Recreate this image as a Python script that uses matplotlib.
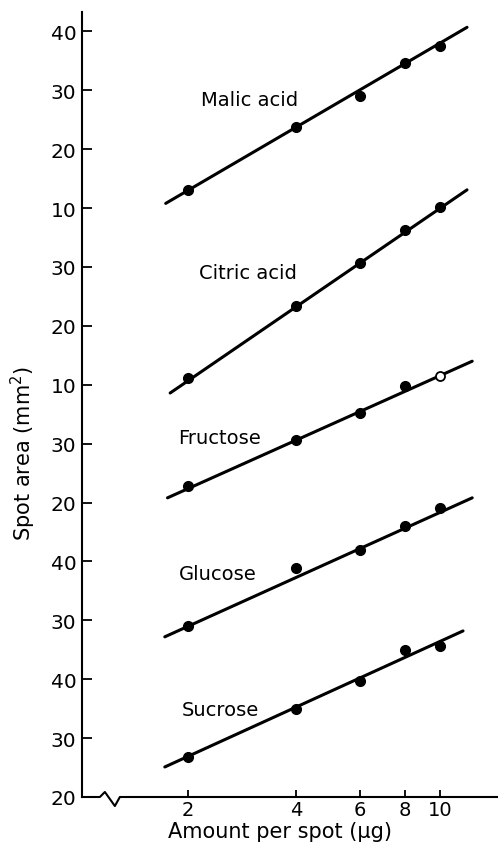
import matplotlib
matplotlib.use('Agg')
from matplotlib import pyplot as plt
import numpy as np

plt.rcParams['font.family'] = ['DejaVu Sans']

amount = [2, 4, 6, 8, 10]

names = ['Malic acid', 'Citric acid', 'Fructose', 'Glucose', 'Sucrose']
# each curve has its own stretch of the y scale, shifted by this much
offsets = [110, 80, 50, 20, 0]

malic = [13.1, 23.8, 29.0, 34.6, 37.5]
citric = [11.1, 23.4, 30.7, 36.3, 40.2]
fructose = [22.8, 30.6, 35.2, 39.8, 41.5]
glucose = [29.0, 38.9, 41.9, 46.0, 49.1]
sucrose = [26.8, 34.9, 39.7, 45.0, 45.6]
series = [malic, citric, fructose, glucose, sucrose]

# drawn fit lines (start / end)
line_x0 = [1.74, 1.79, 1.76, 1.73, 1.73]
line_x1 = [11.9, 11.9, 12.3, 12.3, 11.6]
line_y0 = [10.8, 8.6, 20.8, 27.2, 25.1]
line_y1 = [40.7, 43.1, 44.0, 50.8, 48.2]

# fructose at 10 ug is an open circle
open_pts = {'Fructose': [10]}

label_x = [250, 248, 220, 218, 221]
label_y = [28.5, 29.1, 31.0, 37.9, 34.9]

ytick_pos = [20, 30, 40, 50, 60, 70, 80, 90, 100, 110, 120, 130, 140, 150]
ytick_labels = ['20', '30', '40', '30', '40', '20', '30', '10', '20', '30',
                '10', '20', '30', '40']
xticks = [2, 4, 6, 8, 10]

fig = plt.figure(figsize=(4.98, 8.45), dpi=100)
ax = fig.add_axes([82 / 498, 47 / 845, 416 / 498, 785 / 845])

ax.set_xscale('log')
ax.set_xlim(1.02, 14.5)
ax.set_ylim(20, 153.3)

for i in range(len(names)):
    off = offsets[i]
    ax.plot([line_x0[i], line_x1[i]], [line_y0[i] + off, line_y1[i] + off],
            color='black', lw=2.2, solid_capstyle='round')
    for x, v in zip(amount, series[i]):
        if x in open_pts.get(names[i], []):
            ax.plot(x, v + off, 'o', ms=6.5, mfc='white', mec='black', mew=1.3)
        else:
            ax.plot(x, v + off, 'o', ms=7, color='black')
    # label sits left of the line, at screen x from the picture
    lx = 10 ** (np.log10(2) + (label_x[i] - 188) / 360.5)
    ax.text(lx, label_y[i] + off, names[i], ha='center', va='center',
            fontsize=14)

ax.set_yticks(ytick_pos)
ax.set_yticklabels(ytick_labels)
ax.set_xticks(xticks)
ax.set_xticklabels([str(x) for x in xticks])
ax.xaxis.set_minor_locator(matplotlib.ticker.NullLocator())

ax.tick_params(axis='y', direction='in', length=7, width=1.3, pad=4,
               labelsize=14.5)
ax.tick_params(axis='x', direction='in', length=5, width=1.3, pad=2,
               labelsize=14)

for s in ['top', 'right', 'bottom']:
    ax.spines[s].set_visible(False)
ax.spines['left'].set_linewidth(1.5)

# x axis with a break mark near the origin
bx = [0, 0.043, 0.055, 0.079, 0.091, 1.0]
by = [0, 0, 0.0064, -0.0115, 0, 0]
ax.plot(bx, by, color='black', lw=1.5, transform=ax.transAxes, clip_on=False)

fig.text(23 / 498, 1 - 453 / 845, 'Spot area (mm$^2$)', rotation=90,
         ha='center', va='center', fontsize=15)
fig.text(280 / 498, 1 - 822 / 845, 'Amount per spot (\u03bcg)',
         ha='center', va='top', fontsize=15)

fig.savefig('out.png', dpi=100)
